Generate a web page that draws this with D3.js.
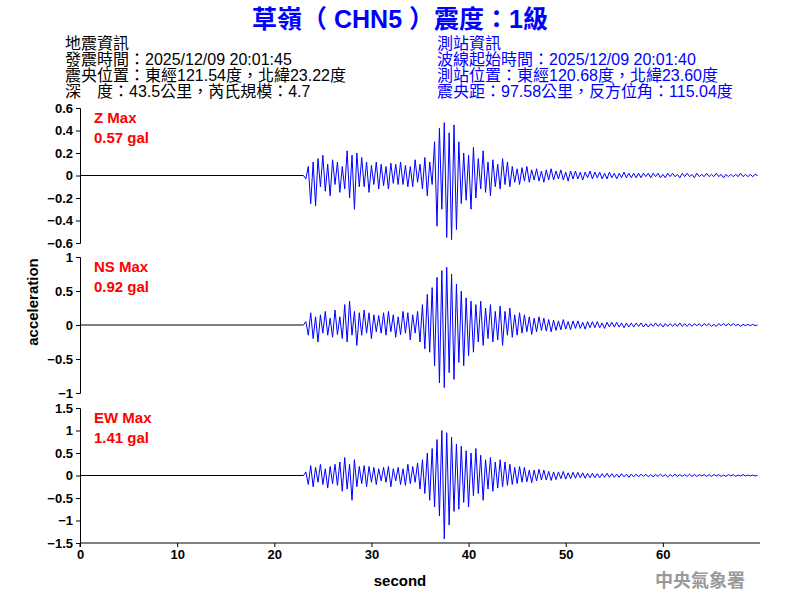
<!DOCTYPE html>
<html><head><meta charset="utf-8">
<script src="https://cdn.jsdelivr.net/npm/d3@7"></script>
<style>body{margin:0;background:#fff}text{font-family:"Liberation Sans","Noto Sans CJK TC",sans-serif}</style>
</head><body><svg id="c" width="800" height="600"></svg>
<script>
const t0 = 23, dt = 0.25;
const zVals = [0,-3,8,-25,12,-27,15,-10, 18,-14,10,-18,14,-8,12,-15, 8,-12,22,-20,18,-30,20,-10, 16,-10,12,-15,9,-8,12,-12, 10,-9,8,-12,11,-7,10,-8, 12,-8,9,-10,8,-10,14,-6, 10,-12,16,-18,12,-8,30,-45, 42,-30,47,-55,38,-57,45,-48, 30,-25,20,-22,18,-30,25,-20, 15,-12,22,-15,12,-18,14,-10, 10,-12,15,-8,12,-10,8,-6, 6,-8,7,-5,8,-6,5,-4, 6,-5,4,-6,5,-4,6,-4, 4,-3,5,-4,3,-5,4,-3, 4,-3,3,-4,3,-2,4,-3, 3,-2,3,-3,2,-3,3,-2, 2,-3,2,-2,3,-2,2,-2, 2,-2,2,-2,2,-1,2,-2, 2,-1,2,-2,1,-2,2,-1, 2,-1,1,-2,2,-1,2,-1, 1,-2,2,-1,1,-1,2,-1, 1,-1,2,-1,1,-2,1,-1, 1,-1,1,-1,2,-1,1,-1, 1,-1,1,0];
const nsVals = [0,5,-15,18,-20,12,-25,15, -12,20,-15,10,-18,22,-14,12, -20,30,-25,35,-15,20,-30,18, -15,22,-12,18,-20,15,-10,14, -12,18,-15,20,-10,15,-18,12, -14,20,-12,18,-22,15,-12,20, -25,30,-35,45,-40,55,-60,70, -85,80,-92,85,-70,75,-80,60, -55,50,-60,40,-45,35,-40,30, -25,35,-30,25,-20,30,-25,20, -22,28,-30,20,-15,25,-18,15, -15,18,-12,15,-10,12,-14,10, -10,12,-8,10,-9,8,-10,7, -8,6,-7,8,-6,5,-7,6, -5,6,-5,4,-6,5,-4,5, -4,5,-4,3,-5,4,-3,4, -3,4,-3,3,-4,3,-3,3, -3,3,-2,3,-3,2,-3,2, -2,3,-2,2,-3,2,-2,2, -2,2,-2,3,-2,2,-2,2, -2,2,-1,2,-2,2,-1,2, -2,1,-2,2,-1,2,-1,2, -1,2,-1,1,-2,1,-1,1, -1,1,-1,0];
const ewVals = [0,8,-20,22,-25,18,-15,25, -20,15,-28,20,-18,25,-22,30, -35,40,-30,25,-55,35,-25,20, -18,22,-25,20,-15,18,-20,15, -12,18,-15,20,-25,15,-12,18, -20,15,-22,25,-18,20,-15,28, -30,35,-40,50,-55,60,-70,80, -90,100,-141,95,-110,85,-80,70, -75,65,-60,55,-70,50,-45,60, -40,45,-55,35,-30,40,-35,30, -28,35,-25,30,-22,25,-20,18, -18,20,-15,18,-14,12,-16,12, -12,14,-10,12,-10,9,-11,8, -9,8,-7,9,-8,6,-7,7, -6,7,-5,6,-6,5,-5,5, -5,4,-5,4,-4,5,-4,4, -4,3,-4,4,-3,3,-4,3, -3,3,-3,3,-2,3,-3,2, -3,2,-2,3,-2,2,-3,2, -2,3,-2,2,-2,2,-2,3, -2,2,-2,2,-1,2,-2,2, -2,2,-1,2,-2,1,-2,2, -1,2,-2,1,-1,2,-1,1, -1,1,-1,0];
const panels = [
 {name:"Z Max", max:"0.57 gal", vals:zVals, dom:[-0.6,0.6], ticks:[-0.6,-0.4,-0.2,0,0.2,0.4,0.6], top:108, bot:243},
 {name:"NS Max", max:"0.92 gal", vals:nsVals, dom:[-1,1], ticks:[-1,-0.5,0,0.5,1], top:257, bot:393},
 {name:"EW Max", max:"1.41 gal", vals:ewVals, dom:[-1.5,1.5], ticks:[-1.5,-1,-0.5,0,0.5,1,1.5], top:408, bot:543}
];
const xTicks=[0,10,20,30,40,50,60];
const svg=d3.select("#c");
const x=d3.scaleLinear().domain([0,70]).range([80,760]);
panels.forEach((p,i)=>{
  const y=d3.scaleLinear().domain(p.dom).range([p.bot,p.top]);
  const pts=p.vals.map((v,k)=>[t0+k*dt,v/100]);
  svg.append("line").attr("x1",x(0)).attr("x2",x(t0)).attr("y1",y(0)).attr("y2",y(0)).attr("stroke","#000");
  svg.append("path").attr("d",d3.line().x(d=>x(d[0])).y(d=>y(d[1]))(pts)).attr("fill","none").attr("stroke","#00f").attr("stroke-width",1);
  const ax=svg.append("g").attr("transform","translate(80,0)").call(d3.axisLeft(y).tickValues(p.ticks).tickSize(4).tickFormat(d3.format("~g")));
  ax.selectAll("text").attr("font-size",13).attr("font-weight","bold").attr("fill","#000");
  svg.append("text").attr("x",94).attr("y",p.top+15).attr("fill","#f00").attr("font-size",15).attr("font-weight","bold").text(p.name);
  svg.append("text").attr("x",94).attr("y",p.top+35).attr("fill","#f00").attr("font-size",15).attr("font-weight","bold").text(p.max);
});
const xa=svg.append("g").attr("transform","translate(0,543)").call(d3.axisBottom(x).tickValues(xTicks).tickSize(4));
xa.selectAll("text").attr("font-size",13).attr("font-weight","bold");
xa.select(".domain").attr("d","M80,4V0H760");
svg.append("text").attr("x",400).attr("y",586).attr("text-anchor","middle").attr("font-size",15).attr("font-weight","bold").text("second");
svg.append("text").attr("transform","translate(38,302) rotate(-90)").attr("text-anchor","middle").attr("font-size",15).attr("font-weight","bold").text("acceleration");
svg.append("text").attr("x",400).attr("y",28).attr("text-anchor","middle").attr("fill","#00f").attr("font-size",25).attr("font-weight","bold").text("草嶺（ CHN5 ）震度：1級");
const left=["地震資訊","發震時間：2025/12/09 20:01:45","震央位置：東經121.54度，北緯23.22度","深　度：43.5公里，芮氏規模：4.7"];
const right=["測站資訊","波線起始時間：2025/12/09 20:01:40","測站位置：東經120.68度，北緯23.60度","震央距：97.58公里，反方位角：115.04度"];
left.forEach((s,i)=>svg.append("text").attr("x",65).attr("y",49+i*16).attr("font-size",16).attr("fill","#000").text(s));
right.forEach((s,i)=>svg.append("text").attr("x",437).attr("y",49+i*16).attr("font-size",16).attr("fill","#00f").text(s));
svg.append("text").attr("x",745).attr("y",587).attr("text-anchor","end").attr("fill","#999").attr("font-size",18).attr("font-weight","bold").text("中央氣象署");
</script></body></html>
